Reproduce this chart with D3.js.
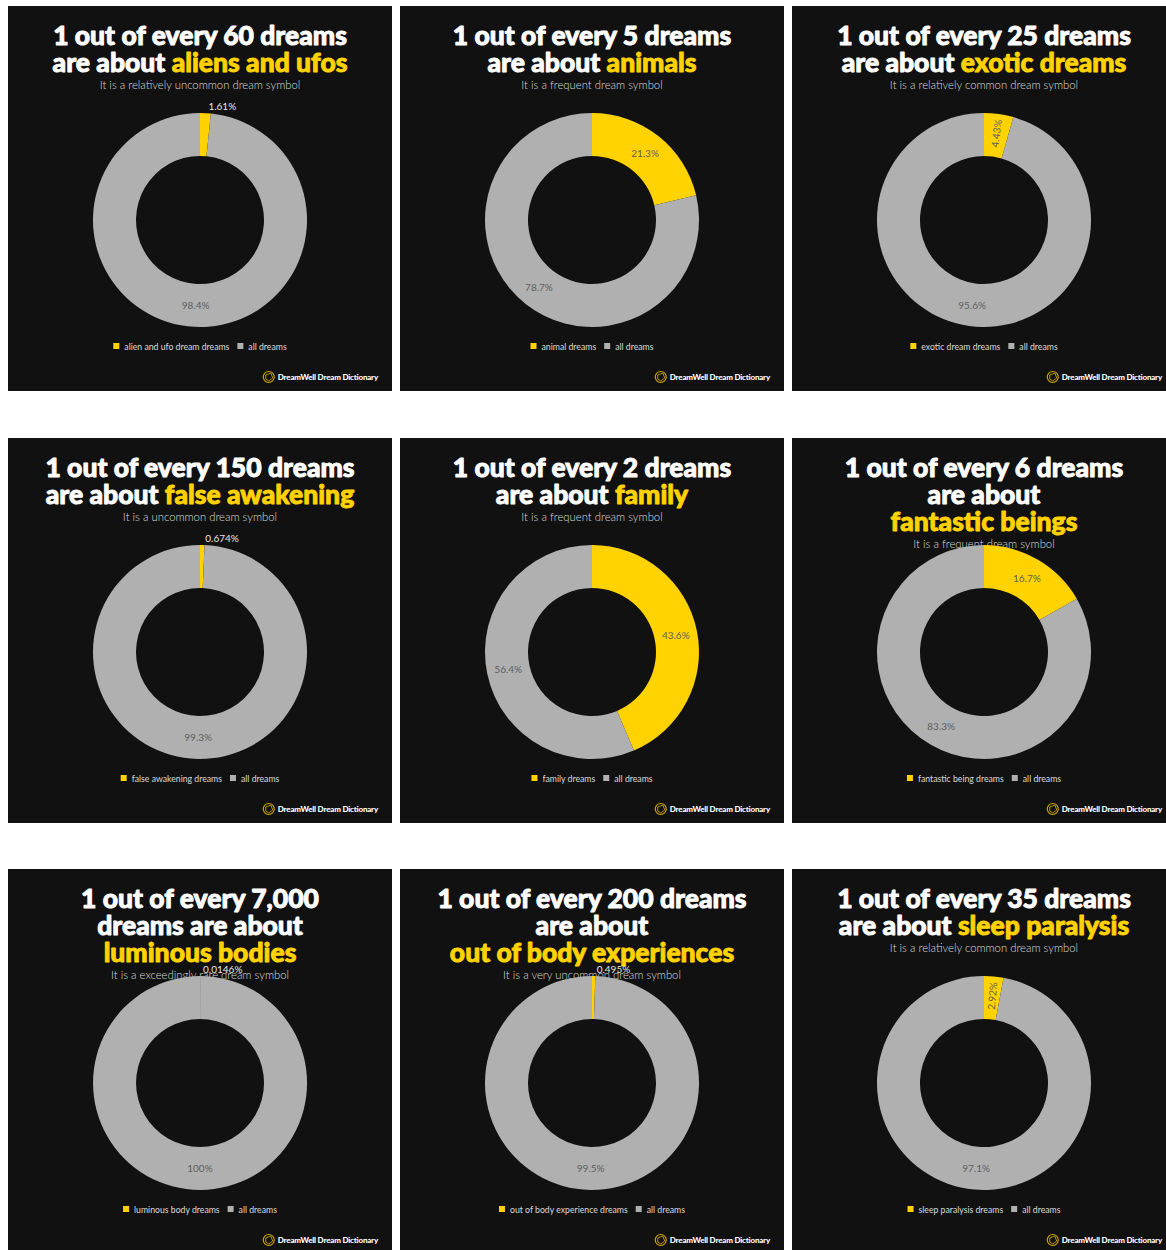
<!DOCTYPE html>
<html>
<head>
<meta charset="utf-8">
<script src="https://cdn.jsdelivr.net/npm/d3@7"></script>
<style>
  html, body { margin: 0; padding: 0; background: #ffffff; overflow: hidden; }
  svg { display: block; }
</style>
</head>
<body>
<svg id="chart" width="1166" height="1250"></svg>
<script>
// Dream symbol frequency cards: one donut per symbol.
const symbols = ["aliens and ufos", "animals", "exotic dreams", "false awakening", "family",
  "fantastic beings", "luminous bodies", "out of body experiences", "sleep paralysis"];

// White heading lines; the last entry is the prefix placed before the yellow topic.
const headLines = [
  ["1 out of every 60 dreams", "are about "],
  ["1 out of every 5 dreams", "are about "],
  ["1 out of every 25 dreams", "are about "],
  ["1 out of every 150 dreams", "are about "],
  ["1 out of every 2 dreams", "are about "],
  ["1 out of every 6 dreams", "are about", ""],
  ["1 out of every 7,000", "dreams are about", ""],
  ["1 out of every 200 dreams", "are about", ""],
  ["1 out of every 35 dreams", "are about "]
];

const subtitles = [
  "It is a relatively uncommon dream symbol",
  "It is a frequent dream symbol",
  "It is a relatively common dream symbol",
  "It is a uncommon dream symbol",
  "It is a frequent dream symbol",
  "It is a frequent dream symbol",
  "It is a exceedingly rare dream symbol",
  "It is a very uncommon dream symbol",
  "It is a relatively common dream symbol"
];

const legendNames = ["alien and ufo dream dreams", "animal dreams", "exotic dream dreams",
  "false awakening dreams", "family dreams", "fantastic being dreams",
  "luminous body dreams", "out of body experience dreams", "sleep paralysis dreams"];

const allLabel = "all dreams";

// Percent of dreams about the symbol, and percent for all dreams
const symbolShare = [1.61, 21.3, 4.43, 0.674, 43.6, 16.7, 0.0146, 0.495, 2.92];
const allShare    = [98.4, 78.7, 95.6, 99.3, 56.4, 83.3, 100, 99.5, 97.1];

const brand = "DreamWell Dream Dictionary";

const YELLOW = "#ffd200";
const GRAY = "#b0b0b0";
const BG = "#111111";
const TITLE_FONT = "Lato, 'Noto Sans', sans-serif";
const BODY_FONT = "Lato, 'Noto Sans', sans-serif";

const svg = d3.select("#chart");

const panelW = 384, panelH = 385;
const colX = d3.scaleLinear().domain([0, 1]).range([8, 400]);
const rowY = d3.scaleLinear().domain([0, 1]).range([6, 437.5]);

const outerR = 107, innerR = 64;
const pie = d3.pie().sort(null).value(d => d.value);
const arc = d3.arc().innerRadius(innerR).outerRadius(outerR);
const fmt = d3.format(".3~r");
const color = d3.scaleOrdinal().domain(["symbol", "all"]).range([YELLOW, GRAY]);

symbols.forEach((topic, i) => {
  const col = i % 3, row = Math.floor(i / 3);
  const g = svg.append("g")
    .attr("transform", `translate(${colX(col)},${Math.round(rowY(row))})`);

  g.append("rect").attr("width", panelW).attr("height", panelH).attr("fill", BG);

  const cx = panelW / 2;

  // heading (stroked in its own colour for a heavier weight)
  const lines = headLines[i];
  const title = g.append("g").attr("font-family", TITLE_FONT).attr("font-weight", 900)
    .attr("font-size", 26.5).attr("text-anchor", "middle")
    .attr("stroke-width", 0.9).attr("stroke-linejoin", "round");
  lines.forEach((ln, k) => {
    const t = title.append("text").attr("x", cx).attr("y", 39 + 27 * k);
    if (k < lines.length - 1) {
      t.append("tspan").attr("fill", "#ffffff").attr("stroke", "#ffffff").text(ln);
    } else {
      if (ln) t.append("tspan").attr("fill", "#ffffff").attr("stroke", "#ffffff")
        .attr("xml:space", "preserve").text(ln);
      t.append("tspan").attr("fill", YELLOW).attr("stroke", YELLOW).text(topic);
    }
  });
  const lastBase = 39 + 27 * (lines.length - 1);

  g.append("text")
    .attr("x", cx).attr("y", lastBase + 17)
    .attr("text-anchor", "middle")
    .attr("font-family", BODY_FONT).attr("font-weight", 300)
    .attr("font-size", 11.3).attr("fill", "#dedede")
    .text(subtitles[i]);

  // donut
  const data = [
    { key: "symbol", value: symbolShare[i] },
    { key: "all", value: allShare[i] }
  ];
  const arcs = pie(data);
  const donut = g.append("g").attr("transform", `translate(${cx},214)`);
  donut.selectAll("path").data(arcs).join("path")
    .attr("d", arc)
    .attr("fill", d => color(d.data.key));

  arcs.forEach(a => {
    const pct = a.data.value;
    const label = fmt(pct) + "%";
    const mid = (a.startAngle + a.endAngle) / 2;
    const share = (a.endAngle - a.startAngle) / (2 * Math.PI);
    const t = donut.append("text")
      .attr("font-family", BODY_FONT).attr("font-size", 10)
      .text(label);
    if (share >= 0.1) {
      const r = (innerR + outerR) / 2;
      t.attr("x", r * Math.sin(mid)).attr("y", -r * Math.cos(mid))
        .attr("text-anchor", "middle").attr("dominant-baseline", "central")
        .attr("fill", "#5f5f5f");
    } else if (share >= 0.025) {
      const r = (innerR + outerR) / 2 + 2;
      const deg = mid * 180 / Math.PI - 90;
      t.attr("transform", `translate(${r * Math.sin(mid)},${-r * Math.cos(mid)}) rotate(${deg})`)
        .attr("text-anchor", "middle").attr("dominant-baseline", "central")
        .attr("fill", "#5f5f5f");
    } else {
      t.attr("x", outerR * Math.sin(mid) + 3).attr("y", -outerR - 3)
        .attr("text-anchor", "start")
        .attr("fill", "#e6e6e6");
    }
  });

  // legend
  const lg = g.append("g").attr("font-family", BODY_FONT).attr("font-size", 8.7)
    .attr("fill", "#dcdcdc");
  const items = [{ key: "symbol", name: legendNames[i] }, { key: "all", name: allLabel }];
  let x = 0;
  items.forEach(it => {
    const ig = lg.append("g").attr("transform", `translate(${x},0)`);
    ig.append("rect").attr("x", 0).attr("y", -3).attr("width", 6).attr("height", 6)
      .attr("fill", color(it.key));
    const tx = ig.append("text").attr("x", 11).attr("y", 0)
      .attr("dominant-baseline", "central").text(it.name);
    x += 11 + tx.node().getComputedTextLength() + 8;
  });
  const legendW = x - 8;
  lg.attr("transform", `translate(${cx - legendW / 2},340)`);

  // brand mark
  const bt = g.append("text")
    .attr("x", 370).attr("y", 374)
    .attr("text-anchor", "end")
    .attr("font-family", BODY_FONT).attr("font-weight", 900)
    .attr("font-size", 8).attr("fill", "#ffffff")
    .attr("letter-spacing", -0.2)
    .text(brand);
  const bw = bt.node().getComputedTextLength();
  const icx = 370 - bw - 9, icy = 371;
  g.append("circle").attr("cx", icx).attr("cy", icy).attr("r", 5.5)
    .attr("fill", "none").attr("stroke", "#c9a400").attr("stroke-width", 1.2);
  g.append("path")
    .attr("d", `M${icx - 3},${icy - 2} L${icx + 2},${icy - 4} L${icx + 4},${icy + 1} L${icx},${icy + 4} L${icx - 3},${icy + 2} Z`)
    .attr("fill", "none").attr("stroke", "#c9a400").attr("stroke-width", 0.9);
});
</script>
</body>
</html>
